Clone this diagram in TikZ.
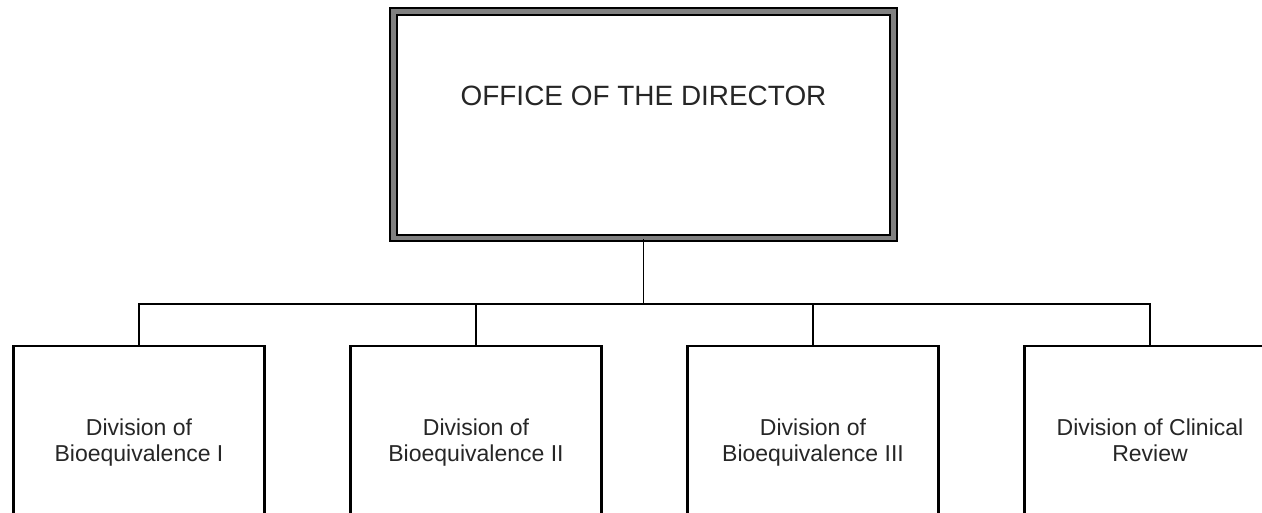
\documentclass[tikz,border=0pt]{standalone}
\usepackage{fontspec}
\setmainfont{Liberation Sans}
\usepackage{color}

\begin{document}
\begin{tikzpicture}[x=0.02cm,y=-0.02cm,
	officebox/.style={draw=black,line width=1.2pt,double=gray,double distance=2.5pt,minimum width=10cm,minimum height=4.53cm,text height=0.45cm,text depth=1.24cm,font=\fontsize{15.9}{19}\selectfont,text=black!85},
	divbox/.style={draw=black,line width=1.2pt,minimum width=5.02cm,minimum height=3.88cm,align=center,font=\fontsize{13.1}{14.8}\selectfont,text=black!85},
	link/.style={draw=black,line width=0.75pt}]
	\clip (0,0) rectangle (1262,512);

	\node[officebox] (Director) at (643.5,124.75) {OFFICE OF THE DIRECTOR};

	\node[divbox] (BioI) at (139,443) {Division of\\Bioequivalence I};
	\node[divbox] (BioII) at (476,443) {Division of\\Bioequivalence II};
	\node[divbox] (BioIII) at (813,443) {Division of\\Bioequivalence III};
	\node[divbox] (Clinical) at (1150,443) {Division of Clinical\\Review\vphantom{q}};

	\coordinate (Bus) at (643.5,304);

	\draw[link] (Director) to (Bus);
	\draw[link] (Bus) -| (BioI);
	\draw[link] (Bus) -| (BioII);
	\draw[link] (Bus) -| (BioIII);
	\draw[link] (Bus) -| (Clinical);
\end{tikzpicture}
\end{document}
